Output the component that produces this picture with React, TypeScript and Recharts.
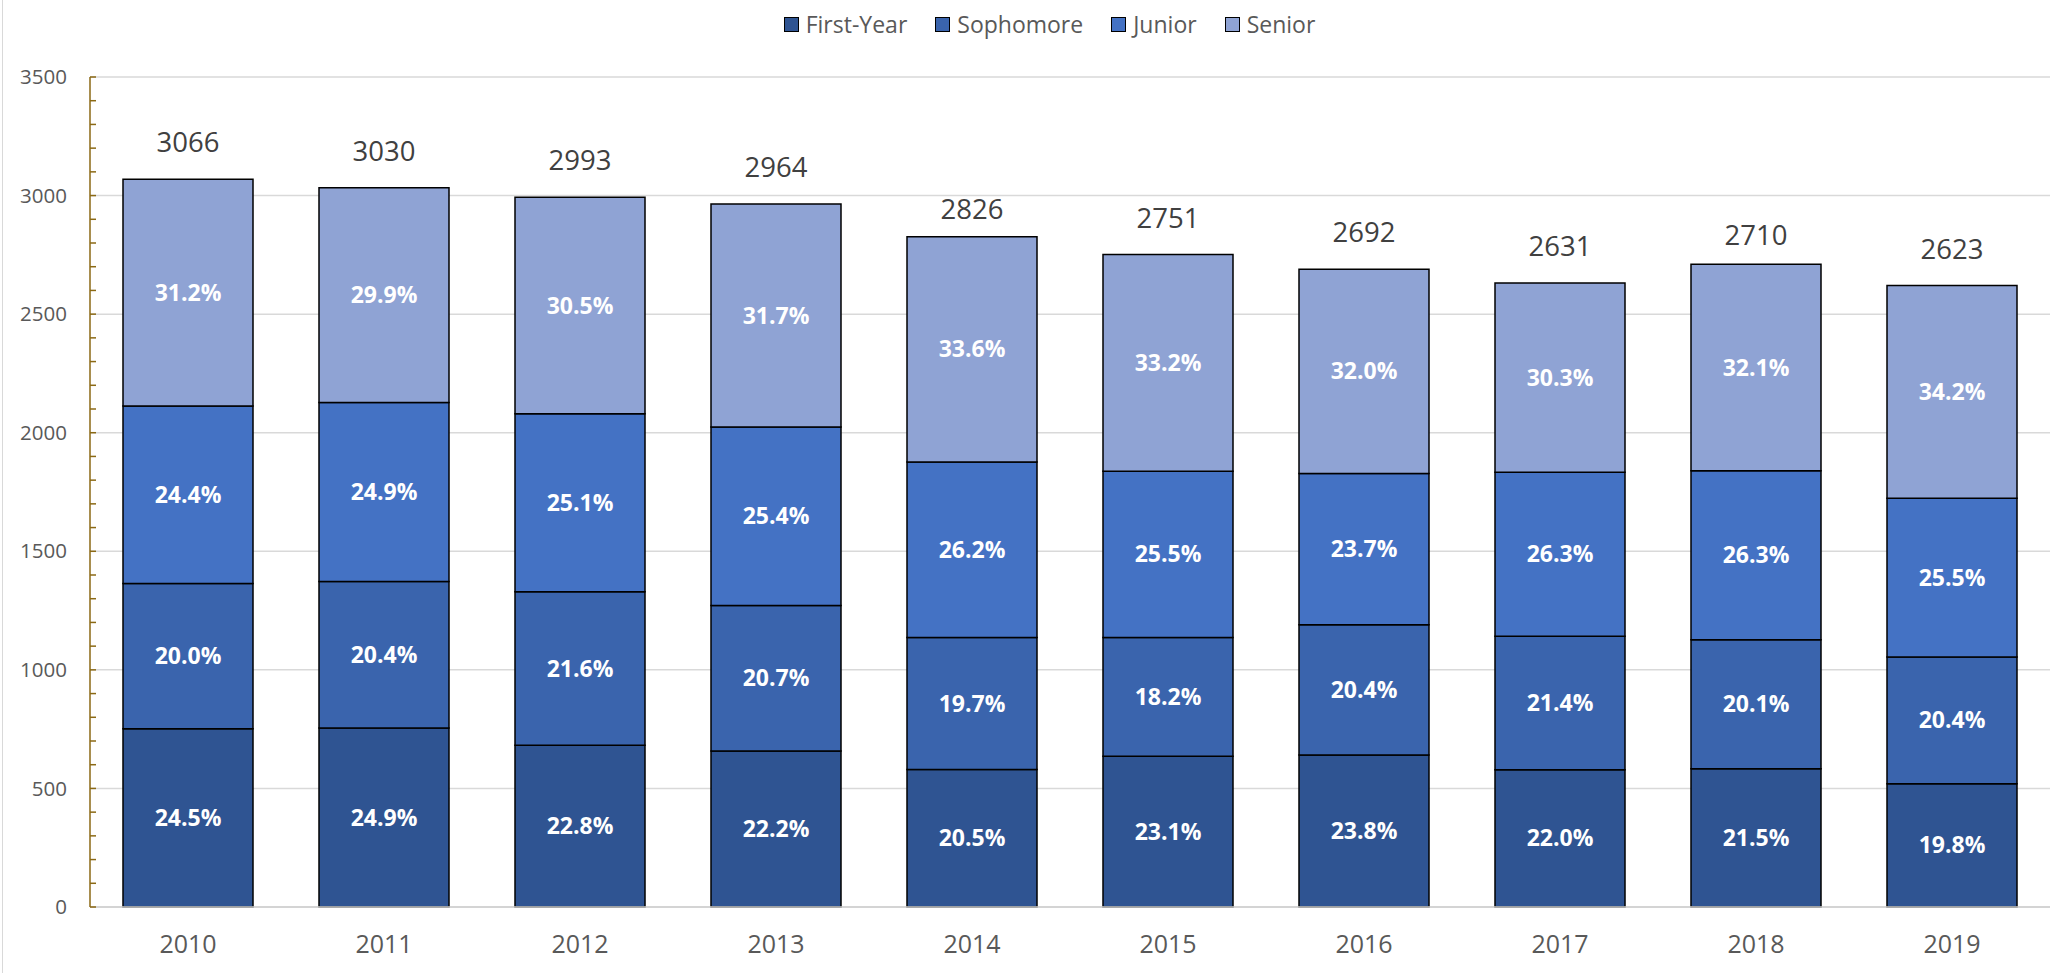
import { BarChart, Bar, XAxis, YAxis, CartesianGrid, Legend, LabelList } from "recharts";

const YEARS = ["2010", "2011", "2012", "2013", "2014", "2015", "2016", "2017", "2018", "2019"];
const TOTALS = [3066, 3030, 2993, 2964, 2826, 2751, 2692, 2631, 2710, 2623];
// share of each class in the year's total, in percent
const FIRST_YEAR_PCT = [24.5, 24.9, 22.8, 22.2, 20.5, 23.1, 23.8, 22.0, 21.5, 19.8];
const SOPHOMORE_PCT = [20.0, 20.4, 21.6, 20.7, 19.7, 18.2, 20.4, 21.4, 20.1, 20.4];
const JUNIOR_PCT = [24.4, 24.9, 25.1, 25.4, 26.2, 25.5, 23.7, 26.3, 26.3, 25.5];
const SENIOR_PCT = [31.2, 29.9, 30.5, 31.7, 33.6, 33.2, 32.0, 30.3, 32.1, 34.2];
const MAJOR_TICKS = [0, 500, 1000, 1500, 2000, 2500, 3000, 3500];

const ALL_TICKS: number[] = [];
for (let v = 0; v <= 3500; v += 100) ALL_TICKS.push(v);

// px between bar top and total label baseline (two labels sit lower in the original)
const TOTAL_LABEL_GAP = [27, 27, 27, 27, 18, 27, 27, 27, 19, 27];

const FONT = "'Open Sans', sans-serif";
const AXIS_GOLD = "#8B6914";

const SERIES = [
  { key: "firstYear", name: "First-Year", color: "#2F5492", pct: FIRST_YEAR_PCT },
  { key: "sophomore", name: "Sophomore", color: "#3A64AD", pct: SOPHOMORE_PCT },
  { key: "junior", name: "Junior", color: "#4472C4", pct: JUNIOR_PCT },
  { key: "senior", name: "Senior", color: "#8FA3D4", pct: SENIOR_PCT },
];

const data = YEARS.map((year, i) => {
  const row: Record<string, number | string> = { year, total: TOTALS[i] };
  SERIES.forEach((s) => {
    row[s.key] = (TOTALS[i] * s.pct[i]) / 100;
    row[s.key + "Pct"] = s.pct[i];
  });
  return row;
});

const YTick = (props: any) => {
  const { x, y, payload } = props;
  const major = payload.value % 500 === 0;
  return (
    <g>
      <line x1={x} x2={x + 6} y1={y} y2={y} stroke={AXIS_GOLD} strokeWidth={1.5} />
      {major && (
        <text x={x - 23} y={y} dy="0.35em" textAnchor="end" fill="#595959" fontSize={20.5} fontFamily={FONT}>
          {payload.value}
        </text>
      )}
    </g>
  );
};

const PctLabel = (props: any) => {
  const { x, y, width, height, value } = props;
  return (
    <text
      x={x + width / 2}
      y={y + height / 2}
      dy="0.35em"
      textAnchor="middle"
      fill="#fff"
      fontWeight={700}
      fontSize={23}
      fontFamily={FONT}
    >
      {Number(value).toFixed(1)}%
    </text>
  );
};

const TotalLabel = (props: any) => {
  const { x, y, width, value, index } = props;
  const gap = TOTAL_LABEL_GAP[index] ?? 27;
  return (
    <text x={x + width / 2} y={y - gap} textAnchor="middle" fill="#404040" fontSize={27.5} fontFamily={FONT}>
      {value}
    </text>
  );
};

const renderLegend = () => (
  <div
    style={{
      display: "flex",
      justifyContent: "center",
      gap: 28,
      fontFamily: FONT,
      fontSize: 23,
      lineHeight: "30px",
      color: "#595959",
    }}
  >
    {SERIES.map((s) => (
      <div key={s.key} style={{ display: "flex", alignItems: "center" }}>
        <span
          style={{
            display: "inline-block",
            width: 13,
            height: 13,
            background: s.color,
            border: "1.5px solid #000",
            marginRight: 7,
          }}
        />
        {s.name}
      </div>
    ))}
  </div>
);

export default function App() {
  return (
    <div style={{ position: "absolute", left: 0, top: 0, width: 2055, height: 973, background: "#fff" }}>
      <div style={{ position: "absolute", left: 2, top: 0, width: 1, height: 973, background: "#D9D9D9" }} />
      <BarChart
        width={2055}
        height={973}
        data={data}
        margin={{ top: 77, right: 5, bottom: 0, left: 0 }}
        barSize={130}
      >
        <CartesianGrid horizontal vertical={false} horizontalValues={MAJOR_TICKS} stroke="#D9D9D9" strokeWidth={1.5} />
        <XAxis
          dataKey="year"
          height={66}
          axisLine={{ stroke: "#CFCFCF", strokeWidth: 1.5 }}
          tickLine={false}
          tickMargin={22}
          tick={{ fill: "#595959", fontSize: 25, fontFamily: FONT }}
        />
        <YAxis
          width={90}
          domain={[0, 3500]}
          ticks={ALL_TICKS}
          interval={0}
          axisLine={{ stroke: AXIS_GOLD, strokeWidth: 1.5 }}
          tickLine={false}
          tickSize={0}
          tickMargin={0}
          tick={<YTick />}
        />
        <Legend verticalAlign="middle" content={renderLegend} wrapperStyle={{ top: 9, left: 22, width: 2055 }} />
        {SERIES.map((s, i) => (
          <Bar
            key={s.key}
            dataKey={s.key}
            name={s.name}
            stackId="a"
            fill={s.color}
            stroke="#000"
            strokeWidth={1.5}
            isAnimationActive={false}
          >
            <LabelList dataKey={s.key + "Pct"} content={<PctLabel />} />
            {i === SERIES.length - 1 && <LabelList dataKey="total" content={<TotalLabel />} />}
          </Bar>
        ))}
      </BarChart>
    </div>
  );
}
